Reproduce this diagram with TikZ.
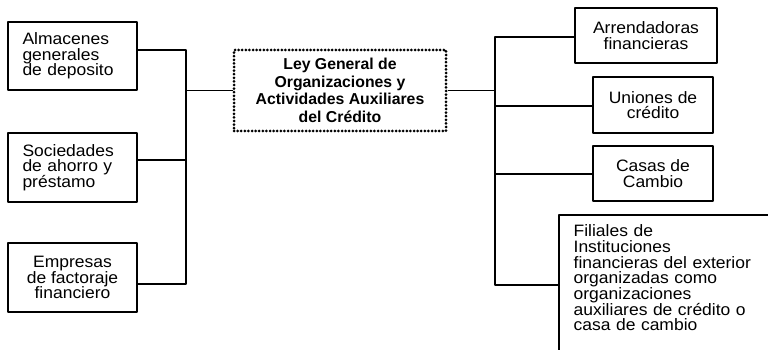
\documentclass[tikz,border=0pt]{standalone}
\usepackage{fontspec}
\setmainfont{Liberation Sans}
\newfontfamily\boxfont{Liberation Sans}[FakeStretch=1.06]
\usepackage{tikz}
\usetikzlibrary{calc}

\begin{document}
\begin{tikzpicture}[x=1pt, y=-1pt, line join=round,
		caja/.style={draw, line width=1.3pt, inner sep=0pt, font=\boxfont\fontsize{16.5}{15.7}\selectfont},
		cajaizq/.style={caja, align=left, text width=100pt, inner xsep=14.5pt},
		ley/.style={line width=3pt, dash pattern=on 0pt off 3.6pt, line cap=round, draw, inner sep=0pt,
			align=center, minimum width=212pt, minimum height=81pt, font=\bfseries\fontsize{15.8}{17.6}\selectfont},
		linea/.style={line width=1.3pt}]
		\useasboundingbox (0,0) rectangle (768,350);
		\node[cajaizq, minimum height=68pt] (alm) at (72.5,56) {Almacenes\\generales\\de deposito};
		\node[cajaizq, minimum height=69pt] (soc) at (72.5,167.5) {Sociedades\\de ahorro y\\préstamo};
		\node[caja, align=center, minimum width=129pt, minimum height=69pt] (emp) at (72.5,277.5) {Empresas\\de factoraje\\financiero};
		\node[ley] (lgo) at (340,90.5) {Ley General de\\Organizaciones y\\Actividades Auxiliares\\del Crédito};
		\node[caja, align=center, minimum width=142pt, minimum height=55pt] (arr) at (646,35.5) {Arrendadoras\\financieras};
		\node[caja, align=center, minimum width=120pt, minimum height=56pt] (uni) at (653,105) {Uniones de\\crédito};
		\node[caja, align=center, minimum width=120pt, minimum height=55pt] (cas) at (653,173.5) {Casas de\\Cambio};
		\node[caja, draw=none, align=left, anchor=north west, text width=200pt, inner xsep=14pt, inner ysep=9pt] (fil) at (559,215)
			{Filiales de\\Instituciones\\financieras del exterior\\organizadas como\\organizaciones\\auxiliares de crédito o\\casa de cambio};
		\draw[linea] (fil.north west |- 0,360) -- (fil.north west) -- (fil.north east);
		\coordinate (lt) at (186,50);
		\coordinate (lm) at (186,160);
		\coordinate (lb) at (186,284);
		\draw[linea] (alm.east |- lt) -- (lt) -- (lb) -- (emp.east |- lb);
		\draw[linea] (soc.east |- lm) -- (lm);
		\draw[linea] (lgo.west) -- (lgo.west -| lt);
		\coordinate (rt) at (495,37);
		\coordinate (ru) at (495,106);
		\coordinate (rc) at (495,174);
		\coordinate (rb) at (495,285);
		\draw[linea] (arr.west |- rt) -- (rt) -- (rb) -- (fil.west |- rb);
		\draw[linea] (uni.west |- ru) -- (ru);
		\draw[linea] (cas.west |- rc) -- (rc);
		\draw[linea] (lgo.east) -- (lgo.east -| rt);
	\end{tikzpicture}
\end{document}
